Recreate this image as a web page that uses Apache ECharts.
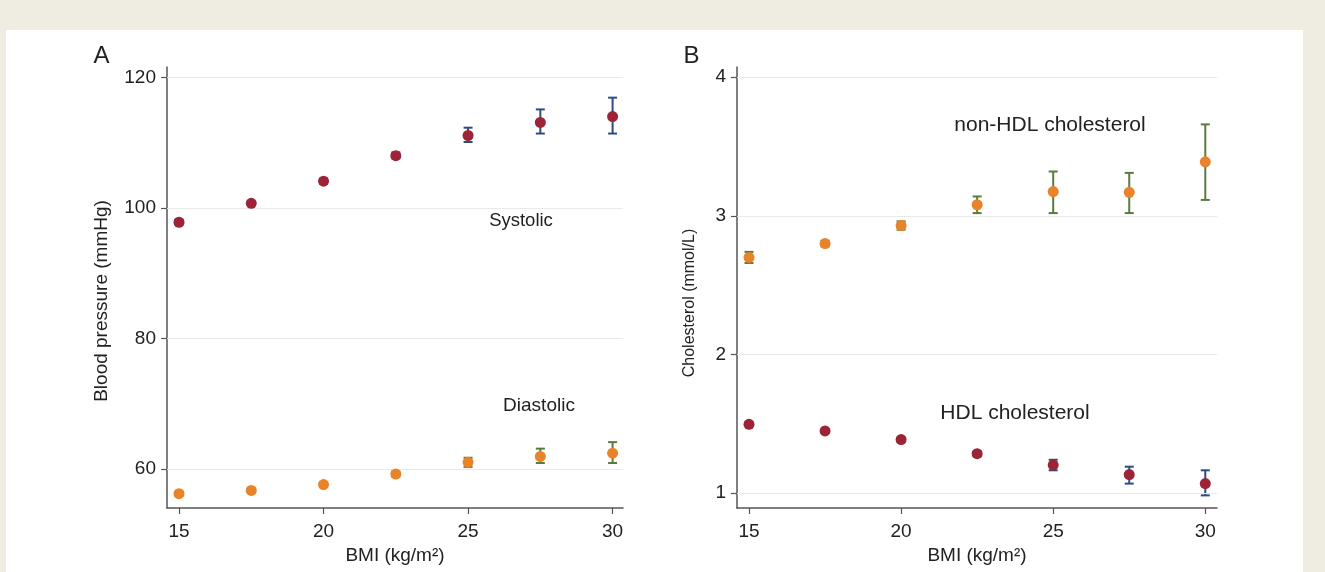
<!DOCTYPE html>
<html>
<head>
<meta charset="utf-8">
<script src="https://cdn.jsdelivr.net/npm/echarts@6/dist/echarts.min.js"></script>
<style>
  html, body { margin:0; padding:0; background:#efece2; }
  #panel { position:absolute; left:6px; top:30px; width:1297px; height:542px; background:#ffffff; }
  #chart { position:absolute; left:0; top:0; width:1325px; height:572px; }
</style>
</head>
<body>
<div id="panel"></div>
<div id="chart"></div>
<script>
// ---- data ----
const bmi = [15, 17.5, 20, 22.5, 25, 27.5, 30];

const systolic   = [97.8, 100.7, 104.1, 108.0, 111.1, 113.1, 114.0];
const systolicLo = [97.4, 100.4, 103.7, 107.6, 110.1, 111.4, 111.4];
const systolicHi = [98.2, 101.0, 104.5, 108.5, 112.3, 115.1, 116.9];

const diastolic   = [56.2, 56.7, 57.6, 59.2, 61.0, 61.9, 62.4];
const diastolicLo = [55.9, 56.4, 57.3, 58.8, 60.3, 60.9, 60.9];
const diastolicHi = [56.5, 57.0, 57.9, 59.6, 61.7, 63.1, 64.1];

const nonHdl   = [2.70, 2.80, 2.93, 3.08, 3.175, 3.17, 3.39];
const nonHdlLo = [2.66, 2.78, 2.90, 3.02, 3.02, 3.02, 3.115];
const nonHdlHi = [2.74, 2.82, 2.96, 3.14, 3.32, 3.31, 3.66];

const hdl   = [1.496, 1.448, 1.386, 1.284, 1.202, 1.133, 1.068];
const hdlLo = [1.48, 1.435, 1.37, 1.265, 1.164, 1.068, 0.983];
const hdlHi = [1.51, 1.46, 1.40, 1.30, 1.24, 1.19, 1.164];

const xTicks  = [15, 20, 25, 30];
const yTicksA = [60, 80, 100, 120];
const yTicksB = [1, 2, 3, 4];

// ---- styles ----
const FONT = '"Liberation Sans", Arial, Helvetica, sans-serif';
const MAROON = '#9c2436';
const ORANGE = '#e8832a';
const BLUE = '#2e4c82';
const GREEN = '#5b7b3c';
const AXIS = '#555555';
const TXT = '#222222';

function pts(ys) { return bmi.map((x, i) => [x, ys[i]]); }
function errs(lo, hi) { return bmi.map((x, i) => [x, lo[i], hi[i]]); }

function errRender(color) {
  return function (params, api) {
    const x = api.value(0);
    const p1 = api.coord([x, api.value(1)]);
    const p2 = api.coord([x, api.value(2)]);
    const w = 4.5;
    const st = { stroke: color, lineWidth: 2, fill: null };
    return {
      type: 'group',
      children: [
        { type: 'line', shape: { x1: p1[0], y1: p1[1], x2: p2[0], y2: p2[1] }, style: st },
        { type: 'line', shape: { x1: p1[0] - w, y1: p1[1], x2: p1[0] + w, y2: p1[1] }, style: st },
        { type: 'line', shape: { x1: p2[0] - w, y1: p2[1], x2: p2[0] + w, y2: p2[1] }, style: st }
      ]
    };
  };
}

function gridLines(vals) {
  return {
    silent: true, symbol: 'none', label: { show: false },
    lineStyle: { color: '#e9e9e9', width: 1, type: 'solid' },
    emphasis: { disabled: true },
    data: vals.map(v => ({ yAxis: v }))
  };
}

function xAxisDef(gridIndex, min, max) {
  return {
    type: 'value', gridIndex, min, max,
    name: 'BMI (kg/m²)', nameLocation: 'middle', nameGap: 33,
    nameTextStyle: { fontFamily: FONT, fontSize: 19, color: TXT },
    axisLine: { show: true, onZero: false, lineStyle: { color: AXIS, width: 1.5 } },
    axisTick: { show: true, length: 6, lineStyle: { color: AXIS, width: 1.2 }, customValues: xTicks },
    axisLabel: { fontFamily: FONT, fontSize: 19, color: TXT, margin: 14, customValues: xTicks },
    splitLine: { show: false }
  };
}

function yAxisDef(gridIndex, min, max, ticks) {
  return {
    type: 'value', gridIndex, min, max,
    axisLine: { show: true, onZero: false, lineStyle: { color: AXIS, width: 1.5 } },
    axisTick: { show: true, length: 6, lineStyle: { color: AXIS, width: 1.2 }, customValues: ticks },
    axisLabel: { fontFamily: FONT, fontSize: 19, color: TXT, margin: 11, customValues: ticks },
    splitLine: { show: false }
  };
}

function label(x, y, t, size, rot) {
  return { type: 'text', x: x, y: y, rotation: rot || 0, silent: true,
    style: { text: t, fill: TXT, font: size + 'px ' + FONT, align: 'center', verticalAlign: 'middle' } };
}

const chart = echarts.init(document.getElementById('chart'), null, { renderer: 'canvas' });

const option = {
  animation: false,
  backgroundColor: 'transparent',
  grid: [
    { left: 167, top: 67, width: 456, height: 441, containLabel: false },
    { left: 737, top: 67, width: 480, height: 441, containLabel: false }
  ],
  xAxis: [ xAxisDef(0, 14.585, 30.36), xAxisDef(1, 14.605, 30.385) ],
  yAxis: [
    yAxisDef(0, 54, 121.6, yTicksA),
    yAxisDef(1, 0.892, 4.074, yTicksB)
  ],
  graphic: [
    label(101.5, 56, 'A', 24),
    label(691.5, 56, 'B', 24),
    label(102, 301, 'Blood pressure (mmHg)', 19, Math.PI / 2),
    label(690, 303, 'Cholesterol (mmol/L)', 16, Math.PI / 2),
    label(521, 221, 'Systolic', 18.5),
    label(539, 406, 'Diastolic', 19),
    label(1050, 125, 'non-HDL cholesterol', 21),
    label(1015, 413, 'HDL cholesterol', 21)
  ],
  series: [
    { type: 'custom', name: 'grid A', xAxisIndex: 0, yAxisIndex: 0, z: 1, data: [], renderItem: () => null,
      markLine: gridLines(yTicksA) },
    { type: 'custom', name: 'grid B', xAxisIndex: 1, yAxisIndex: 1, z: 1, data: [], renderItem: () => null,
      markLine: gridLines(yTicksB) },
    { type: 'custom', xAxisIndex: 0, yAxisIndex: 0, z: 3, renderItem: errRender(BLUE),
      encode: { x: 0, y: [1, 2] }, data: errs(systolicLo, systolicHi) },
    { type: 'custom', xAxisIndex: 0, yAxisIndex: 0, z: 3, renderItem: errRender(GREEN),
      encode: { x: 0, y: [1, 2] }, data: errs(diastolicLo, diastolicHi) },
    { type: 'custom', xAxisIndex: 1, yAxisIndex: 1, z: 3, renderItem: errRender(GREEN),
      encode: { x: 0, y: [1, 2] }, data: errs(nonHdlLo, nonHdlHi) },
    { type: 'custom', xAxisIndex: 1, yAxisIndex: 1, z: 3, renderItem: errRender(BLUE),
      encode: { x: 0, y: [1, 2] }, data: errs(hdlLo, hdlHi) },
    { type: 'scatter', xAxisIndex: 0, yAxisIndex: 0, z: 5, symbolSize: 11, itemStyle: { color: MAROON, opacity: 1 }, data: pts(systolic) },
    { type: 'scatter', xAxisIndex: 0, yAxisIndex: 0, z: 5, symbolSize: 11, itemStyle: { color: ORANGE, opacity: 1 }, data: pts(diastolic) },
    { type: 'scatter', xAxisIndex: 1, yAxisIndex: 1, z: 5, symbolSize: 11, itemStyle: { color: ORANGE, opacity: 1 }, data: pts(nonHdl) },
    { type: 'scatter', xAxisIndex: 1, yAxisIndex: 1, z: 5, symbolSize: 11, itemStyle: { color: MAROON, opacity: 1 }, data: pts(hdl) }
  ]
};
chart.setOption(option);
</script>
</body>
</html>
